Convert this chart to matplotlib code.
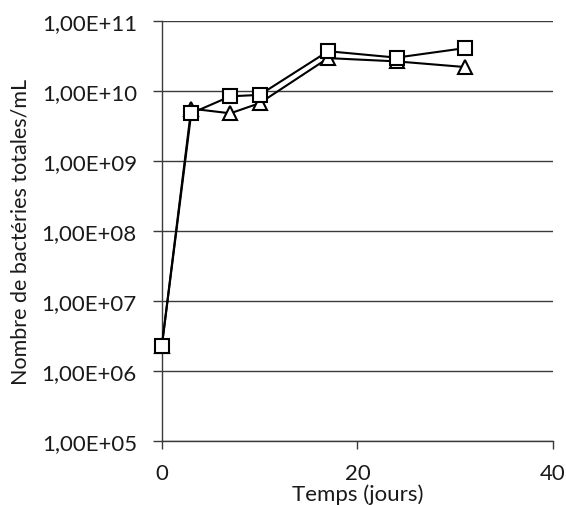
import matplotlib
matplotlib.use("Agg")
import matplotlib.pyplot as plt
from matplotlib.ticker import FixedLocator, NullLocator

days = [0, 3, 7, 10, 17, 24, 31]
series_triangle = [2.3e6, 5.6e9, 4.8e9, 6.7e9, 2.95e10, 2.65e10, 2.2e10]
series_square = [2.3e6, 4.8e9, 8.4e9, 8.8e9, 3.7e10, 3.0e10, 4.1e10]
y_ticks = [1e5, 1e6, 1e7, 1e8, 1e9, 1e10, 1e11]
y_tick_labels = ["1,00E+05", "1,00E+06", "1,00E+07", "1,00E+08", "1,00E+09", "1,00E+10", "1,00E+11"]
x_ticks = [0, 20, 40]

plt.rcParams['font.family'] = ['Lato', 'DejaVu Sans']

fig = plt.figure(figsize=(5.66, 5.06), dpi=100)
ax = fig.add_axes([0.286, 0.1265, 0.691, 0.83])

ax.plot(days, series_triangle, color='black', lw=1.5, marker='^', ms=10,
        mfc='white', mec='black', mew=1.5, zorder=3, clip_on=False)
ax.plot(days, series_square, color='black', lw=1.5, marker='s', ms=9.5,
        mfc='white', mec='black', mew=1.5, zorder=4, clip_on=False)

ax.set_yscale('log')
ax.set_ylim(1e5, 1e11)
ax.set_xlim(0, 40)
ax.yaxis.set_major_locator(FixedLocator(y_ticks))
ax.yaxis.set_minor_locator(NullLocator())
ax.set_yticks(y_ticks)
ax.set_yticklabels(y_tick_labels)
ax.set_xticks(x_ticks)
ax.grid(axis='y', color='#3a3a3a', lw=1.0)
ax.set_axisbelow(True)

for s in ['top', 'right']:
    ax.spines[s].set_visible(False)
for s in ['left', 'bottom']:
    ax.spines[s].set_color('#3a3a3a')
    ax.spines[s].set_linewidth(1.0)

ax.tick_params(axis='y', direction='out', length=6.5, width=1.0, color='#3a3a3a',
               labelsize=16, pad=11.5, labelcolor='#1a1a1a')
ax.tick_params(axis='x', direction='out', length=6, width=1.0, color='#3a3a3a',
               labelsize=16, pad=10, labelcolor='#1a1a1a')

ax.set_xlabel("Temps (jours)", fontsize=16, color='#1a1a1a')
ax.xaxis.set_label_coords(0.5, -0.102)
ax.set_ylabel("Nombre de bactéries totales/mL", fontsize=15.5, color='#1a1a1a')
ax.yaxis.set_label_coords(-0.335, 0.5)

fig.savefig("out.png", dpi=100)
